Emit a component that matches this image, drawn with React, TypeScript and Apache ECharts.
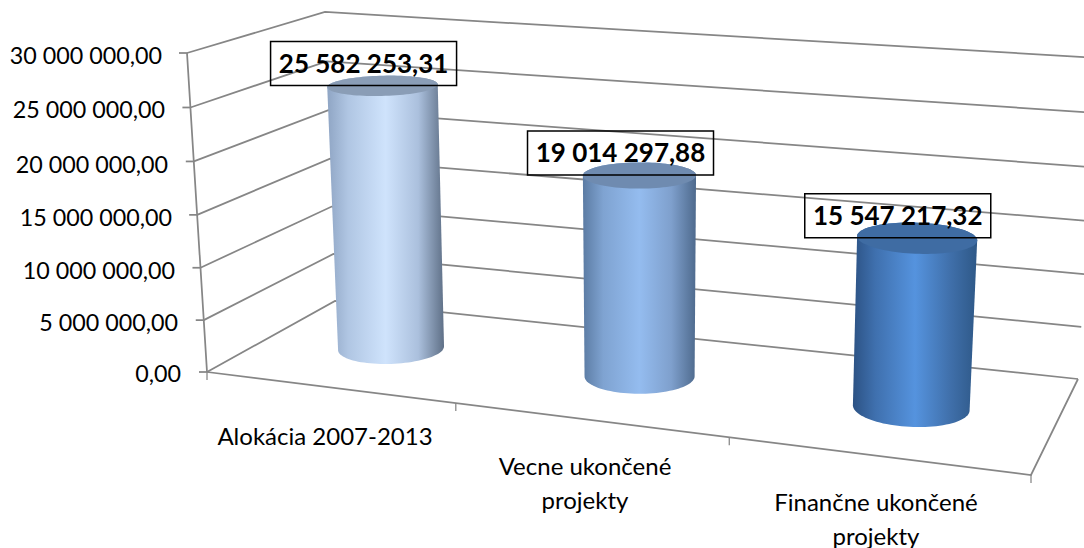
import React, { useEffect, useRef } from "react";
import * as echarts from "echarts";

const categories = ["Alokácia 2007-2013", "Vecne ukončené\nprojekty", "Finančne ukončené\nprojekty"];
const values = [25582253.31, 19014297.88, 15547217.32];
const valueLabels = ["25 582 253,31", "19 014 297,88", "15 547 217,32"];
const yTicks = [0, 5000000, 10000000, 15000000, 20000000, 25000000, 30000000];
const yTickLabels = ["0,00", "5 000 000,00", "10 000 000,00", "15 000 000,00", "20 000 000,00", "25 000 000,00", "30 000 000,00"];

const W = 1084, H = 548;
const GRID = { left: 190, top: 55, width: 840, height: 318 };
const Y_RIGHT = [181, 178, 175, 172, 168, 165, 162];
const Y_SHIFT = [0, 2, 3, 3, 3, 1, 0];
const CAT_POS = [[325, 435], [585, 482], [876, 518]];

const FONT = "Lato";
const GREY = "#868686";

type Pt = [number, number];
const FLOOR: Pt[] = [[207, 372], [1031, 475], [1078, 379], [335, 301]];
const CEIL: Pt[] = [[187, 53], [1053, 120], [1098, 58], [325, 12]];

function homography(q: Pt[]) {
  const [[x0, y0], [x1, y1], [x2, y2], [x3, y3]] = q;
  const dx1 = x1 - x2, dx2 = x3 - x2, sx = x0 - x1 + x2 - x3;
  const dy1 = y1 - y2, dy2 = y3 - y2, sy = y0 - y1 + y2 - y3;
  const den = dx1 * dy2 - dx2 * dy1;
  const g = (sx * dy2 - dx2 * sy) / den;
  const h = (dx1 * sy - sx * dy1) / den;
  const a = x1 - x0 + g * x1, b = x3 - x0 + h * x3, c = x0;
  const d = y1 - y0 + g * y1, e = y3 - y0 + h * y3, f = y0;
  return (u: number, w: number): Pt => {
    const k = g * u + h * w + 1;
    return [(a * u + b * w + c) / k, (d * u + e * w + f) / k];
  };
}
const floorMap = homography(FLOOR);
const ceilMap = homography(CEIL);
const DEPTH_K = 1.03;
function project(u: number, w: number, v: number): Pt {
  const t = v / (v + (1 - v) * DEPTH_K);
  const a = floorMap(u, w), b = ceilMap(u, w);
  return [a[0] + (b[0] - a[0]) * t, a[1] + (b[1] - a[1]) * t];
}
// cylinders stand a little straighter than the wall edges
const BAR_U_SHIFT = 0.005, BAR_LEAN = 15, BAR_MID_SHIFT = 6;
function projectBar(u: number, w: number, v: number): Pt {
  const p = project(u + BAR_U_SHIFT, w, v);
  const s = Math.sin(Math.PI * u);
  return [p[0] + BAR_LEAN * s * v + BAR_MID_SHIFT * (s - 0.5), p[1]];
}
// screen position from the library's own scale -> chart-box coordinates
function toBox(api: any, x: number, y: number) {
  const p = api.coord([x, y]);
  return { u: (p[0] - GRID.left) / GRID.width, v: (GRID.top + GRID.height - p[1]) / GRID.height };
}

function hull(pts: Pt[]): Pt[] {
  const s = pts.slice().sort((a, b) => a[0] - b[0] || a[1] - b[1]);
  const cr = (o: Pt, a: Pt, b: Pt) => (a[0] - o[0]) * (b[1] - o[1]) - (a[1] - o[1]) * (b[0] - o[0]);
  const lo: Pt[] = [], up: Pt[] = [];
  for (const p of s) { while (lo.length > 1 && cr(lo[lo.length - 2], lo[lo.length - 1], p) <= 0) lo.pop(); lo.push(p); }
  for (const p of s.reverse()) { while (up.length > 1 && cr(up[up.length - 2], up[up.length - 1], p) <= 0) up.pop(); up.push(p); }
  return lo.slice(0, -1).concat(up.slice(0, -1));
}

const BODY_STOPS = [
  ["#8fa5c4", "#b0c6e3", "#cfe3fc", "#abc0dd", "#5f7087"],
  ["#5b7ba3", "#7fa3d1", "#94bcef", "#7fa0cd", "#4e6a8d"],
  ["#2c5284", "#3f70ae", "#5593de", "#4070ab", "#2e5887"],
];
const TOP_FILL = ["#8a9db6", "#6f8bb0", "#3f6ca3"];
const RU = 0.0665, RW = 0.2, W0 = 0.5;

function line(points: Pt[], width = 1.75) {
  return { type: "polyline", shape: { points }, style: { stroke: GREY, lineWidth: width, fill: "none" }, silent: true };
}

function renderGrid(_: any, api: any) {
  const { v } = toBox(api, 0, api.value(1));
  const a = project(0, 0, v), b = project(0, 1, v), c = project(1, 1, v);
  return {
    type: "group",
    children: [line([a, b, c]), line([[a[0] - 8, a[1]], a])],
  };
}

function renderFrame() {
  const kids: any[] = [
    line([project(0, 0, 0), project(0, 0, 1)]),
    line([project(0, 0, 0), project(1, 0, 0), project(1, 1, 0)]),
  ];
  [0, 1, 2, 3].forEach((i) => {
    const p = project(i / 3 + (i === 1 || i === 2 ? 0.0075 : 0), 0, 0);
    kids.push(line([p, [p[0], p[1] + 8]], 1.25));
  });
  return { type: "group", children: kids };
}

function renderCylinder(params: any, api: any) {
  const i = params.dataIndex;
  const { u, v } = toBox(api, api.value(0), api.value(1));
  const base: Pt[] = [], top: Pt[] = [];
  for (let k = 0; k < 96; k++) {
    const t = (k / 96) * Math.PI * 2;
    const uu = u + RU * Math.cos(t), ww = W0 + RW * Math.sin(t);
    base.push(projectBar(uu, ww, 0));
    top.push(projectBar(uu, ww, v));
  }
  const stops = BODY_STOPS[i].map((color, n) => ({ offset: [0, 0.18, 0.5, 0.78, 1][n], color }));
  return {
    type: "group",
    children: [
      { type: "polygon", shape: { points: hull(base.concat(top)) }, style: { fill: new echarts.graphic.LinearGradient(0, 0, 1, 0, stops) } },
      { type: "polygon", shape: { points: top }, style: { fill: TOP_FILL[i] } },
    ],
  };
}

function renderLabel(params: any, api: any) {
  const i = params.dataIndex;
  const { u, v } = toBox(api, api.value(0), api.value(1));
  const t = projectBar(u, W0, v);
  const bw = 186, bh = 44;
  const cx = t[0] - 19, by = t[1];
  return {
    type: "group",
    children: [
      { type: "rect", shape: { x: cx - bw / 2, y: by - bh, width: bw, height: bh }, style: { fill: "none", stroke: "#000", lineWidth: 1.5 } },
      { type: "text", style: { x: cx, y: by - bh / 2 - 1, text: valueLabels[i], align: "center", verticalAlign: "middle", fill: "#000", fontFamily: FONT, fontSize: 26, fontWeight: "bold" } },
    ],
  };
}

function renderCategory(params: any) {
  const i = params.dataIndex;
  return {
    type: "text",
    style: { x: CAT_POS[i][0], y: CAT_POS[i][1], text: categories[i], align: "center", verticalAlign: "middle", fill: "#000", fontFamily: FONT, fontSize: 24, lineHeight: 34 },
  };
}

export default function App() {
  const ref = useRef<HTMLDivElement>(null);
  useEffect(() => {
    document.body.style.margin = "0";
    const chart = echarts.init(ref.current!, undefined, { renderer: "svg" });
    const rich: any = {};
    yTicks.forEach((_, n) => {
      rich["t" + n] = {
        fontFamily: FONT, fontSize: 23.3, color: "#000",
        padding: [Y_SHIFT[n] * 2, GRID.left - Y_RIGHT[n], 0, 0],
      };
    });
    const pts = values.map((val, n) => [n, val]);
    const common = { type: "custom", coordinateSystem: "cartesian2d", clip: false, silent: true, animation: false };
    chart.setOption({
      animation: false,
      grid: { ...GRID, containLabel: false },
      xAxis: { type: "category", data: categories, show: false },
      yAxis: {
        type: "value", min: 0, max: 30000000, interval: 5000000,
        axisLine: { show: false }, axisTick: { show: false }, splitLine: { show: false },
        axisLabel: {
          margin: 0, align: "right",
          formatter: (val: number) => {
            const n = yTicks.indexOf(val);
            return `{t${n}|${yTickLabels[n]}}`;
          },
          rich,
        },
      },
      series: [
        { ...common, name: "grid", renderItem: renderGrid, data: yTicks.map((t) => [0, t]), z: 1 },
        { ...common, name: "frame", renderItem: renderFrame, data: [[0, 0]], z: 2 },
        { ...common, name: "Hodnota", renderItem: renderCylinder, data: pts, z: 3 },
        { ...common, name: "labels", renderItem: renderLabel, data: pts, z: 4 },
        { ...common, name: "categories", renderItem: renderCategory, data: pts, z: 4 },
      ],
    });
    return () => chart.dispose();
  }, []);
  return <div ref={ref} style={{ position: "absolute", left: 0, top: 0, width: W, height: H, background: "#fff" }} />;
}
